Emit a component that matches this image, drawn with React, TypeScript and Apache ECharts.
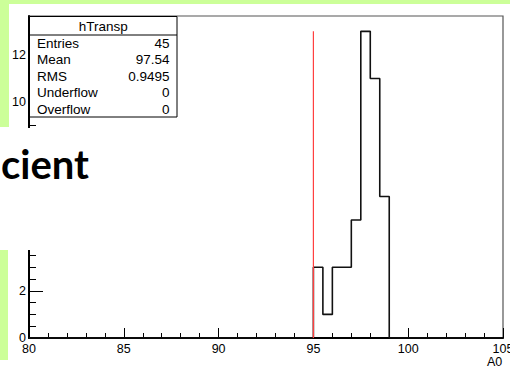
import React, { useEffect, useRef } from "react";
import * as echarts from "echarts";

// ---- data ----
const histName = "hTransp";
const binLowEdges = [95, 95.5, 96, 96.5, 97, 97.5, 98, 98.5];
const binCounts = [3, 1, 3, 3, 5, 13, 11, 6];
const binWidth = 0.5;
const xMin = 80;
const xMax = 105;
const xInterval = 5;
const yMin = 0;
const yMax = 13.65;
const yInterval = 2;
// y tick labels that are not hidden by the slide's text box in the reference
const yLabelsVisible = [0, 2, 10, 12];
const cutValue = 95;
const statLabels = ["Entries", "Mean", "RMS", "Underflow", "Overflow"];
const statValues = ["45", "97.54", "0.9495", "0", "0"];
const xTitle = "A0";
const overlayText = "cient";

const FONT = "'Liberation Sans', Arial, Helvetica, sans-serif";

export default function App() {
  const ref = useRef<HTMLDivElement>(null);

  useEffect(() => {
    if (!ref.current) return;
    const chart = echarts.init(ref.current, undefined, { renderer: "svg" });

    const lastEdge = binLowEdges[binLowEdges.length - 1] + binWidth;
    const histData: number[][] = [
      [xMin, 0],
      ...binLowEdges.map((x, i) => [x, binCounts[i]]),
      [lastEdge, 0],
      [xMax, 0],
    ];
    const peak = Math.max(...binCounts);
    const cutData = [
      [cutValue, 0],
      [cutValue, peak],
    ];

    // stats box geometry
    const bx = 29.5, by = 16.5, bw = 147.5, bh = 100.5, titleH = 18.5;
    const rowY0 = 43, rowStep = 16.5;

    const graphics: any[] = [
      // slide background strips
      { type: "rect", z: -10, shape: { x: 0, y: 0, width: 510, height: 4 }, style: { fill: "#ccff99" } },
      { type: "rect", z: -10, shape: { x: 0, y: 0, width: 9, height: 127 }, style: { fill: "#ccff99" } },
      { type: "rect", z: -10, shape: { x: 0, y: 250, width: 8, height: 110 }, style: { fill: "#ccff99" } },
      // stats box
      { type: "rect", z: 100, shape: { x: bx, y: by, width: bw, height: bh }, style: { fill: "#fff", stroke: "#000", lineWidth: 1 } },
      { type: "line", z: 101, shape: { x1: bx, y1: by + titleH, x2: bx + bw, y2: by + titleH }, style: { stroke: "#000", lineWidth: 1 } },
      {
        type: "text", z: 101, x: bx + bw / 2, y: by + titleH / 2 + 0.5,
        style: { text: histName, fill: "#000", font: `13.5px ${FONT}`, align: "center", verticalAlign: "middle" },
      },
      ...statLabels.map((s, i) => ({
        type: "text", z: 101, x: 37, y: rowY0 + i * rowStep,
        style: { text: s, fill: "#000", font: `13.5px ${FONT}`, align: "left", verticalAlign: "middle" },
      })),
      ...statValues.map((s, i) => ({
        type: "text", z: 101, x: 169.5, y: rowY0 + i * rowStep,
        style: { text: s, fill: "#000", font: `13.5px ${FONT}`, align: "right", verticalAlign: "middle" },
      })),
      // slide text box overlay
      { type: "rect", z: 100, shape: { x: 0, y: 128, width: 170, height: 122 }, style: { fill: "#fff" } },
      {
        type: "text", z: 101, x: 1, y: 164,
        style: { text: overlayText, fill: "#000", font: `bold 40px Lato, 'Open Sans', sans-serif`, align: "left", verticalAlign: "middle" },
      },
    ];

    chart.setOption({
      animation: false,
      backgroundColor: "transparent",
      grid: {
        left: 29, right: 7, top: 16, bottom: 32,
        containLabel: false,
        outerBoundsMode: "none",
        show: true, borderColor: "#555", borderWidth: 1.2, backgroundColor: "transparent",
      },
      xAxis: {
        type: "value",
        min: xMin, max: xMax, interval: xInterval,
        name: xTitle,
        nameLocation: "end",
        nameGap: -16,
        nameTextStyle: { color: "#000", fontSize: 12.5, fontFamily: FONT, verticalAlign: "top", padding: [17, 0, 0, 0] },
        axisLine: { show: true, lineStyle: { color: "#000", width: 2 } },
        axisTick: { show: true, inside: true, length: 10, lineStyle: { color: "#000", width: 1 } },
        minorTick: { show: true, splitNumber: 5, length: 5, lineStyle: { color: "#000", width: 1 } },
        splitLine: { show: false },
        minorSplitLine: { show: false },
        axisLabel: { color: "#000", fontSize: 12.5, fontFamily: FONT, margin: 4, hideOverlap: false },
      },
      yAxis: {
        type: "value",
        min: yMin, max: yMax, interval: yInterval,
        axisLine: { show: true, lineStyle: { color: "#000", width: 2 } },
        axisTick: { show: true, inside: true, length: 14, lineStyle: { color: "#000", width: 1 } },
        minorTick: { show: true, splitNumber: 4, length: 7, lineStyle: { color: "#000", width: 1 } },
        splitLine: { show: false },
        minorSplitLine: { show: false },
        axisLabel: {
          color: "#000", fontSize: 12.5, fontFamily: FONT, margin: 3, showMaxLabel: false,
          formatter: (v: number) => (yLabelsVisible.indexOf(v) >= 0 ? String(v) : ""),
        },
      },
      series: [
        {
          type: "line",
          name: histName,
          data: histData,
          step: "end",
          symbol: "none",
          lineStyle: { color: "#111", width: 1.6 },
          z: 3,
        },
        {
          type: "line",
          name: "cut",
          data: cutData,
          symbol: "none",
          color: "#ff4040",
          lineStyle: { color: "#ff4040", width: 1.2 },
          z: 4,
        },
      ],
      graphic: { elements: graphics },
    });

    return () => chart.dispose();
  }, []);

  return (
    <div
      ref={ref}
      style={{ position: "absolute", left: 0, top: 0, width: 510, height: 370, background: "#fff" }}
    />
  );
}
